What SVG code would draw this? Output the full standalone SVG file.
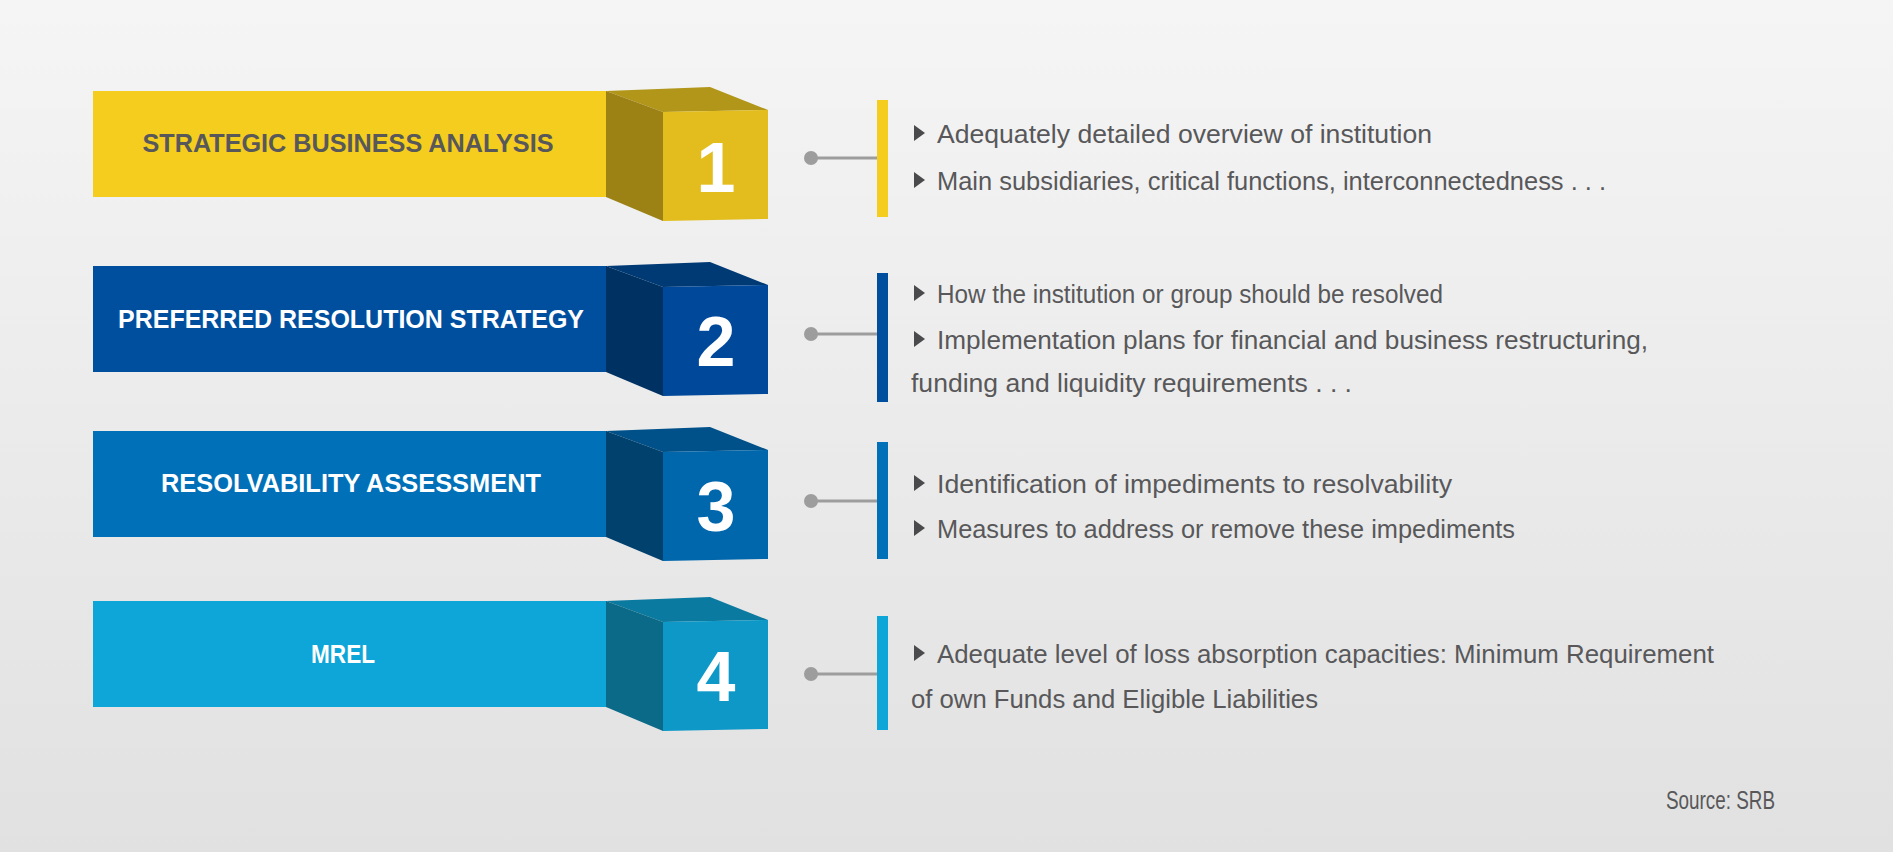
<svg xmlns="http://www.w3.org/2000/svg" width="1893" height="852" viewBox="0 0 1893 852">
<defs>
<linearGradient id="bg" x1="0" y1="0" x2="0" y2="1"><stop offset="0" stop-color="#f5f5f5"/><stop offset="1" stop-color="#e1e1e1"/></linearGradient>
<style>
.lbl{font-family:"Liberation Sans",Arial,sans-serif;font-weight:bold;font-size:25px;text-anchor:middle}
.num{font-family:"Liberation Sans",Arial,sans-serif;font-weight:bold;font-size:70px;fill:#fff;text-anchor:middle}
.txt{font-family:"Liberation Sans",Arial,sans-serif;font-size:26px;fill:#58585a}
.tri{fill:#4a4a4c}
.dot{fill:#9d9d9d}
.ln{stroke:#9d9d9d;stroke-width:3}
</style>
</defs>
<rect width="1893" height="852" fill="url(#bg)"/>
<g id="node1">
<rect x="93" y="91" width="514" height="106" fill="#f4cd1f"/>
<polygon points="606,91 710,87 768,110 663,112" fill="#b19619"/>
<polygon points="606,91 663,112 663,221 606,197" fill="#9c8114"/>
<polygon points="663,112 768,110 768,219 663,221" fill="#e2bd1d"/>
<text class="lbl" x="348" y="152" fill="#58585a" textLength="411" lengthAdjust="spacingAndGlyphs">STRATEGIC BUSINESS ANALYSIS</text>
<text class="num" x="716" y="192">1</text>
</g>
<g id="node2">
<rect x="93" y="266" width="514" height="106" fill="#004f9f"/>
<polygon points="606,266 710,262 768,285 663,287" fill="#003a75"/>
<polygon points="606,266 663,287 663,396 606,372" fill="#003163"/>
<polygon points="663,287 768,285 768,394 663,396" fill="#00489a"/>
<text class="lbl" x="351" y="328" fill="#fff" textLength="466" lengthAdjust="spacingAndGlyphs">PREFERRED RESOLUTION STRATEGY</text>
<text class="num" x="716" y="366">2</text>
</g>
<g id="node3">
<rect x="93" y="431" width="514" height="106" fill="#0070b8"/>
<polygon points="606,431 710,427 768,450 663,452" fill="#005189"/>
<polygon points="606,431 663,452 663,561 606,537" fill="#00416e"/>
<polygon points="663,452 768,450 768,559 663,561" fill="#0067ad"/>
<text class="lbl" x="351" y="492" fill="#fff" textLength="380" lengthAdjust="spacingAndGlyphs">RESOLVABILITY ASSESSMENT</text>
<text class="num" x="716" y="531">3</text>
</g>
<g id="node4">
<rect x="93" y="601" width="514" height="106" fill="#0ea6d8"/>
<polygon points="606,601 710,597 768,620 663,622" fill="#0b7aa0"/>
<polygon points="606,601 663,622 663,731 606,707" fill="#0b6a87"/>
<polygon points="663,622 768,620 768,729 663,731" fill="#0d98c8"/>
<text class="lbl" x="343" y="663" fill="#fff" textLength="64" lengthAdjust="spacingAndGlyphs">MREL</text>
<text class="num" x="716" y="701">4</text>
</g>
<g id="connectors">
<line class="ln" x1="811" y1="158" x2="878" y2="158"/><circle class="dot" cx="811" cy="158" r="7"/>
<line class="ln" x1="811" y1="334" x2="878" y2="334"/><circle class="dot" cx="811" cy="334" r="7"/>
<line class="ln" x1="811" y1="501" x2="878" y2="501"/><circle class="dot" cx="811" cy="501" r="7"/>
<line class="ln" x1="811" y1="674" x2="878" y2="674"/><circle class="dot" cx="811" cy="674" r="7"/>
</g>
<g id="detail1">
<rect x="877" y="100" width="11" height="117" fill="#f4cd1f"/>
<polygon class="tri" points="914,125 925,133 914,141"/>
<text class="txt" x="937" y="143" textLength="495" lengthAdjust="spacingAndGlyphs">Adequately detailed overview of institution</text>
<polygon class="tri" points="914,172 925,180 914,188"/>
<text class="txt" x="937" y="190" textLength="669" lengthAdjust="spacingAndGlyphs">Main subsidiaries, critical functions, interconnectedness . . .</text>
</g>
<g id="detail2">
<rect x="877" y="273" width="11" height="129" fill="#004f9f"/>
<polygon class="tri" points="914,285 925,293 914,301"/>
<text class="txt" x="937" y="303" textLength="506" lengthAdjust="spacingAndGlyphs">How the institution or group should be resolved</text>
<polygon class="tri" points="914,331 925,339 914,347"/>
<text class="txt" x="937" y="349" textLength="711" lengthAdjust="spacingAndGlyphs">Implementation plans for financial and business restructuring,</text>
<text class="txt" x="911" y="392" textLength="441" lengthAdjust="spacingAndGlyphs">funding and liquidity requirements . . .</text>
</g>
<g id="detail3">
<rect x="877" y="442" width="11" height="117" fill="#0070b8"/>
<polygon class="tri" points="914,475 925,483 914,491"/>
<text class="txt" x="937" y="493" textLength="515" lengthAdjust="spacingAndGlyphs">Identification of impediments to resolvability</text>
<polygon class="tri" points="914,520 925,528 914,536"/>
<text class="txt" x="937" y="538" textLength="578" lengthAdjust="spacingAndGlyphs">Measures to address or remove these impediments</text>
</g>
<g id="detail4">
<rect x="877" y="616" width="11" height="114" fill="#0ea6d8"/>
<polygon class="tri" points="914,645 925,653 914,661"/>
<text class="txt" x="937" y="663" textLength="777" lengthAdjust="spacingAndGlyphs">Adequate level of loss absorption capacities: Minimum Requirement</text>
<text class="txt" x="911" y="708" textLength="407" lengthAdjust="spacingAndGlyphs">of own Funds and Eligible Liabilities</text>
</g>
<text class="txt" x="1666" y="809" font-size="24" fill="#6a6a6c" textLength="109" lengthAdjust="spacingAndGlyphs">Source: SRB</text>
</svg>
